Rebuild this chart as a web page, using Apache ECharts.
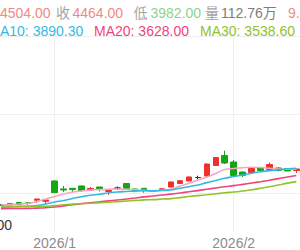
<!DOCTYPE html>
<html>
<head>
<meta charset="utf-8">
<style>html,body{margin:0;padding:0;background:#fff;}#c{width:300px;height:250px;}</style>
<script src="https://cdn.jsdelivr.net/npm/echarts@6/dist/echarts.min.js"></script>
</head>
<body>
<div id="c"></div>
<script>
// ---- data ----
const categories = ['2025-12-24','2025-12-25','2025-12-26','2025-12-29','2025-12-30','2025-12-31',
  '2026-01-05','2026-01-06','2026-01-07','2026-01-08','2026-01-09','2026-01-12','2026-01-13','2026-01-14',
  '2026-01-15','2026-01-16','2026-01-19','2026-01-20','2026-01-21','2026-01-22','2026-01-23','2026-01-26',
  '2026-01-27','2026-01-28','2026-01-29','2026-01-30','2026-02-02','2026-02-03','2026-02-04','2026-02-05',
  '2026-02-06','2026-02-09','2026-02-10','2026-02-11'];
const openPrices  = [2851,2864,2876,2874,2904,2892,3151,3049,3057,3087,3036,3074,3017,3061,3119,3049,3057,3027,3042,3074,3119,3151,3195,3214,3348,3476,3393,3265,3259,3323,3297,3316,3310,3285];
const closePrices = [2838,2851,2851,2864,2921,2908,3002,3036,3042,3029,3055,3055,3029,3061,3055,3023,3042,3020,3052,3138,3154,3202,3195,3367,3450,3380,3221,3221,3310,3285,3361,3285,3278,3304];
const lowPrices   = [2832,2844,2844,2844,2870,2866,2998,3010,3010,3010,3036,3017,2972,3036,3048,3006,3001,3010,3042,3070,3119,3147,3172,3193,3346,3367,3205,3202,3253,3278,3285,3272,3278,3253];
const highPrices  = [2857,2870,2883,2874,2921,2908,3157,3087,3061,3093,3074,3074,3029,3080,3121,3057,3057,3036,3057,3144,3163,3206,3218,3376,3453,3537,3418,3272,3329,3329,3386,3329,3310,3304];
const ma5  = [2844,2851,2857,2864,2889,2921,2953,2985,3010,3023,3036,3040,3045,3049,3046,3040,3031,3026,3036,3046,3087,3121,3163,3202,3246,3297,3310,3320,3325,3322,3313,3304,3300,3300];
const ma10 = [2815,2819,2824,2828,2838,2857,2883,2902,2927,2949,2968,2982,2998,3010,3017,3023,3026,3024,3029,3036,3057,3078,3100,3130,3157,3185,3207,3227,3249,3268,3283,3293,3306,3311];
const ma20 = [2797,2799,2800,2801,2805,2810,2818,2833,2848,2862,2874,2885,2897,2908,2921,2934,2948,2959,2971,2983,2998,3013,3028,3045,3061,3077,3091,3107,3124,3142,3161,3181,3202,3221];
const ma30 = [2832,2830,2828,2827,2827,2829,2836,2847,2855,2861,2866,2874,2880,2887,2895,2903,2910,2913,2920,2926,2938,2952,2964,2975,2987,3000,3010,3023,3038,3057,3077,3100,3123,3143];
const yMin = 2500, yMax = 5000;
const headerItems = [
  {text:'4504.00', kind:'up'}, {text:'收', kind:'label'}, {text:'4464.00', kind:'up'},
  {text:'低', kind:'label'}, {text:'3982.00', kind:'down'}, {text:'量', kind:'label'},
  {text:'112.76万', kind:'vol'}, {text:'9.', kind:'up'}
];
const maLegend = [
  {text:'MA10: 3890.30', kind:'ma10'}, {text:'MA20: 3628.00', kind:'ma20'}, {text:'MA30: 3538.60', kind:'ma30'}
];

// ---- layout / style ----
const FONT = '"Liberation Sans", Arial, "Noto Sans CJK SC", sans-serif';
const colors = {up:'#f08a82', label:'#a3a3a3', down:'#8fd18f', vol:'#7d7d7d',
  ma5:'#f7a6c2', ma10:'#34b9e2', ma20:'#f0437d', ma30:'#93c22c'};
const headerX = [0, 56, 72.5, 133.5, 150.5, 205, 221, 288];
const legendX = [-11.7, 94, 200];

const isMonthStart = (idx) => idx > 0 && categories[idx].slice(0,7) !== categories[idx-1].slice(0,7);
const candleData = categories.map((_, i) => [openPrices[i], closePrices[i], lowPrices[i], highPrices[i]]);

const graphics = [];
headerItems.forEach((h, i) => graphics.push({type:'text', x: headerX[i], y: 13,
  style:{text:h.text, fill:colors[h.kind], fontSize:14, fontFamily:FONT, verticalAlign:'middle', align:'left'}}));
maLegend.forEach((h, i) => graphics.push({type:'text', x: legendX[i], y: 31,
  style:{text:h.text, fill:colors[h.kind], fontSize:14, fontFamily:FONT, verticalAlign:'middle', align:'left'}}));

const chart = echarts.init(document.getElementById('c'), null, {renderer:'svg'});
const lineSeries = (name, data, color) => ({name, type:'line', data, smooth:true, symbol:'none', z:3,
  lineStyle:{color, width:1.6}, itemStyle:{color}});
chart.setOption({
  animation:false,
  backgroundColor:'#fff',
  graphic: graphics,
  grid:{left:-3.475, right:-0.825, top:36, bottom:18, containLabel:false, outerBoundsMode:'none'},
  xAxis:{type:'category', data:categories, boundaryGap:true,
    axisLine:{show:false}, axisTick:{show:false},
    axisLabel:{interval:(idx)=>isMonthStart(idx), color:'#8c8c8c', fontSize:14, lineHeight:14, fontFamily:FONT, margin:4,
      formatter:(v)=>{const p=v.split('-'); return p[0]+'/'+parseInt(p[1],10);}},
    splitLine:{show:true, interval:(idx)=>isMonthStart(idx), alignWithLabel:true, lineStyle:{color:'#efefef', width:1}}
  },
  yAxis:{type:'value', min:yMin, max:yMax, splitNumber:3,
    axisLine:{show:false}, axisTick:{show:false},
    splitLine:{show:true, showMinLine:false, lineStyle:{color:'#efefef', width:1}},
    axisLabel:{inside:true, showMinLabel:true, align:'right', verticalAlign:'bottom', margin:15.5,
      color:'#333', fontSize:14, fontFamily:FONT,
      formatter:(v)=> v === yMin ? String(v) : ''}
  },
  series:[
    {name:'K', type:'candlestick', data:candleData, barWidth:6, z:2,
      itemStyle:{color:'#f0302c', color0:'#15a515', borderColor:'#f0302c', borderColor0:'#15a515', borderColorDoji:'#333', borderWidth:1}},
    lineSeries('MA5', ma5, colors.ma5),
    lineSeries('MA10', ma10, colors.ma10),
    lineSeries('MA20', ma20, colors.ma20),
    lineSeries('MA30', ma30, colors.ma30)
  ]
});
</script>
</body>
</html>
